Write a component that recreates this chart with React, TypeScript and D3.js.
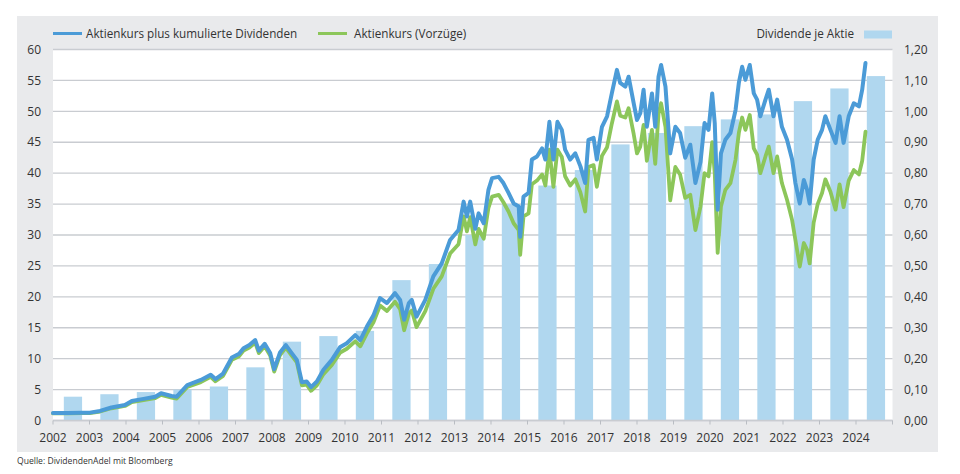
import React from 'react';
import * as d3 from 'd3';

// ---- Data ----
const dividendYears = [2002, 2003, 2004, 2005, 2006, 2007, 2008, 2009, 2010, 2011, 2012, 2013, 2014, 2015, 2016, 2017, 2018, 2019, 2020, 2021, 2022, 2023, 2024];
const dividends = [0.077, 0.085, 0.092, 0.1, 0.11, 0.172, 0.255, 0.273, 0.29, 0.454, 0.506, 0.6, 0.7, 0.76, 0.81, 0.893, 0.93, 0.952, 0.974, 0.99, 1.033, 1.074, 1.114];

const dates = [
  2002.0, 2002.4, 2002.79, 2003.01, 2003.29, 2003.6, 2003.97, 2004.16, 2004.48, 2004.8, 2004.96,
  2005.25, 2005.39, 2005.68, 2006.05, 2006.32, 2006.45, 2006.66, 2006.9, 2007.1, 2007.22, 2007.38,
  2007.54, 2007.64, 2007.8, 2007.95, 2008.06, 2008.22, 2008.38, 2008.54, 2008.68, 2008.82, 2008.95,
  2009.07, 2009.23, 2009.41, 2009.64, 2009.87, 2010.05, 2010.28, 2010.42, 2010.6, 2010.78, 2010.96,
  2011.15, 2011.37, 2011.51, 2011.62, 2011.75, 2011.83, 2011.96, 2012.2, 2012.42, 2012.65, 2012.88,
  2013.11, 2013.25, 2013.34, 2013.43, 2013.57, 2013.66, 2013.8, 2013.93, 2014.03, 2014.21, 2014.34,
  2014.48, 2014.62, 2014.76, 2014.8, 2014.89, 2015.03, 2015.12, 2015.26, 2015.4, 2015.49, 2015.6,
  2015.71, 2015.82, 2015.94, 2016.03, 2016.17, 2016.31, 2016.45, 2016.58, 2016.67, 2016.81, 2016.9,
  2017.04, 2017.18, 2017.31, 2017.45, 2017.54, 2017.68, 2017.77, 2017.91, 2018.0, 2018.09, 2018.18,
  2018.27, 2018.41, 2018.5, 2018.59, 2018.66, 2018.78, 2018.91, 2019.05, 2019.18, 2019.32, 2019.46,
  2019.6, 2019.74, 2019.85, 2019.96, 2020.06, 2020.13, 2020.21, 2020.3, 2020.42, 2020.56, 2020.7,
  2020.79, 2020.88, 2020.97, 2021.09, 2021.2, 2021.29, 2021.38, 2021.52, 2021.61, 2021.74, 2021.84,
  2021.97, 2022.11, 2022.25, 2022.34, 2022.46, 2022.57, 2022.66, 2022.73, 2022.84, 2022.95, 2023.07,
  2023.16, 2023.3, 2023.44, 2023.55, 2023.66, 2023.8, 2023.94, 2024.08, 2024.17, 2024.26,
];

const totalReturn = [
  1.2, 1.2, 1.27, 1.27, 1.55, 2.1, 2.5, 3.15, 3.5, 3.85, 4.4,
  3.97, 3.85, 5.74, 6.55, 7.4, 6.7, 7.6, 10.2, 10.8, 11.7, 12.2,
  13.0, 11.3, 12.4, 10.9, 8.3, 11.0, 12.2, 10.9, 9.8, 6.2, 6.3,
  5.4, 6.3, 8.2, 9.8, 11.9, 12.5, 13.8, 13.0, 15.2, 17.0, 19.8,
  19.0, 20.6, 19.5, 16.3, 19.0, 19.5, 16.8, 19.5, 23.3, 25.4, 29.2,
  30.8, 35.4, 33.0, 35.4, 31.0, 33.5, 31.9, 37.3, 39.2, 39.4, 38.4,
  36.8, 35.1, 34.6, 29.7, 36.2, 36.8, 42.2, 42.7, 44.0, 42.2, 48.3,
  42.2, 48.3, 47.0, 43.8, 42.2, 43.2, 41.1, 38.4, 45.4, 45.7, 42.2,
  47.5, 49.2, 52.9, 56.7, 54.6, 54.0, 55.6, 51.3, 48.6, 49.7, 53.5,
  47.5, 52.9, 47.5, 55.6, 57.5, 54.0, 43.2, 47.5, 46.5, 42.5, 44.6,
  38.4, 41.8, 48.1, 47.0, 52.9, 48.1, 34.1, 43.2, 45.4, 46.5, 50.2,
  54.6, 57.2, 55.1, 57.5, 52.9, 51.9, 49.2, 51.9, 53.5, 49.2, 51.9,
  47.5, 45.4, 42.2, 38.4, 35.1, 38.9, 37.3, 35.1, 42.2, 45.4, 47.0,
  49.2, 47.0, 44.9, 49.2, 44.9, 49.2, 51.3, 50.8, 53.5, 57.8,
];

const priceVz = [
  1.15, 1.15, 1.2, 1.2, 1.45, 1.98, 2.35, 2.98, 3.3, 3.62, 4.15,
  3.7, 3.55, 5.42, 6.2, 7.05, 6.35, 7.22, 9.8, 10.4, 11.3, 11.8,
  12.6, 10.9, 12.0, 10.5, 7.9, 10.6, 11.8, 10.5, 9.4, 5.7, 5.8,
  4.8, 5.7, 7.5, 9.0, 11.0, 11.6, 12.8, 12.0, 14.1, 15.9, 18.6,
  17.7, 19.2, 18.0, 14.6, 17.3, 17.8, 15.1, 17.7, 21.3, 23.3, 27.0,
  28.5, 33.0, 30.6, 32.9, 28.5, 31.0, 29.4, 34.4, 36.2, 36.5, 35.3,
  33.8, 31.9, 30.8, 26.8, 33.0, 33.5, 38.2, 38.8, 39.8, 38.0, 43.8,
  37.8, 43.8, 42.6, 39.5, 38.0, 39.0, 36.9, 33.8, 41.0, 41.3, 37.8,
  42.8, 44.2, 48.0, 51.6, 49.3, 49.0, 50.5, 46.3, 43.2, 44.3, 47.8,
  42.0, 47.0, 41.5, 49.6, 51.3, 47.5, 35.6, 41.0, 39.8, 36.0, 36.5,
  30.8, 34.6, 40.0, 39.5, 45.0, 40.0, 27.1, 34.6, 37.3, 38.4, 42.2,
  46.5, 49.0, 47.0, 49.4, 44.0, 43.0, 40.0, 42.7, 44.3, 40.0, 42.7,
  38.4, 35.7, 32.4, 29.2, 24.9, 28.7, 27.6, 25.4, 32.0, 35.0, 36.8,
  39.0, 37.0, 34.1, 38.2, 34.5, 38.8, 40.5, 39.8, 42.0, 46.7,
];

const leftTicks = [0, 5, 10, 15, 20, 25, 30, 35, 40, 45, 50, 55, 60];
const rightTicks = [0, 0.1, 0.2, 0.3, 0.4, 0.5, 0.6, 0.7, 0.8, 0.9, 1.0, 1.1, 1.2];
const yearTicks = [2002, 2003, 2004, 2005, 2006, 2007, 2008, 2009, 2010, 2011, 2012, 2013, 2014, 2015, 2016, 2017, 2018, 2019, 2020, 2021, 2022, 2023, 2024, 2025];
const yearLabels = ['2002', '2003', '2004', '2005', '2006', '2007', '2008', '2009', '2010', '2011', '2012', '2013', '2014', '2015', '2016', '2017', '2018', '2019', '2020', '2021', '2022', '2023', '2024'];

const seriesNames = ['Aktienkurs plus kumulierte Dividenden', 'Aktienkurs (Vorzüge)', 'Dividende je Aktie'];
const sourceText = 'Quelle: DividendenAdel mit Bloomberg';

// ---- Layout ----
const W = 960;
const H = 474;
const plotL = 53;
const plotR = 892.5;
const plotT = 49.5;
const plotB = 420.5;

const BLUE = '#4b9bd7';
const GREEN = '#8cc65a';
const BAR = '#b0d7ef';
const GRID = '#c9ccd1';
const TEXT = '#333333';
const FONT = "'Open Sans', 'Noto Sans', sans-serif";

export default function App() {
  const x = d3.scaleLinear().domain([2002, 2025]).range([plotL, plotR]);
  const yL = d3.scaleLinear().domain([0, 60]).range([plotB, plotT]);
  const yR = d3.scaleLinear().domain([0, 1.2]).range([plotB, plotT]);
  const band = d3
    .scaleBand<number>()
    .domain(dividendYears)
    .range([x(2002) + 1.7, x(2025) + 1.7])
    .paddingInner(0.5)
    .paddingOuter(0.25);

  const fmtR = (v: number) => d3.format('.2f')(v).replace('.', ',');

  const line = d3
    .line<number>()
    .x((_, i) => x(dates[i]))
    .y((d) => yL(d))
    .curve(d3.curveLinear);

  return (
    <svg
      width={W}
      height={H}
      style={{ position: 'absolute', left: 0, top: 0, fontFamily: FONT }}
    >
      <rect x={0} y={0} width={W} height={H} fill="#ffffff" />
      <rect x={17} y={16} width={921} height={436} fill="#e9eaec" />
      <rect x={plotL} y={plotT} width={plotR - plotL} height={plotB - plotT} fill="#ffffff" />

      {/* gridlines */}
      {leftTicks.map((t) => (
        <line
          key={'g' + t}
          x1={plotL}
          x2={plotR}
          y1={yL(t)}
          y2={yL(t)}
          stroke={GRID}
          strokeWidth={1.3}
        />
      ))}

      {/* bars */}
      {dividendYears.map((yr, i) => (
        <rect
          key={'b' + yr}
          x={band(yr)}
          y={yR(dividends[i])}
          width={band.bandwidth()}
          height={plotB - yR(dividends[i])}
          fill={BAR}
        />
      ))}

      {/* axis line and ticks */}
      <line x1={plotL} x2={plotR} y1={plotB} y2={plotB} stroke={GRID} strokeWidth={1.3} />
      {yearTicks.map((t) => (
        <line key={'t' + t} x1={x(t)} x2={x(t)} y1={plotB} y2={plotB + 4} stroke="#b9bdc3" strokeWidth={1} />
      ))}

      {/* lines */}
      <path d={line(priceVz) || ''} fill="none" stroke={GREEN} strokeWidth={3.8} strokeLinejoin="round" strokeLinecap="round" />
      <path d={line(totalReturn) || ''} fill="none" stroke={BLUE} strokeWidth={4} strokeLinejoin="round" strokeLinecap="round" />

      {/* left axis labels */}
      {leftTicks.map((t) => (
        <text key={'l' + t} x={41} y={yL(t)} dy="0.35em" textAnchor="end" fontSize={12} fill={TEXT}>
          {t}
        </text>
      ))}
      {/* right axis labels */}
      {rightTicks.map((t) => (
        <text key={'r' + t} x={904} y={yR(t)} dy="0.35em" textAnchor="start" fontSize={12} fill={TEXT}>
          {fmtR(t)}
        </text>
      ))}
      {/* x labels */}
      {yearLabels.map((lab, i) => (
        <text key={'x' + lab} x={x(yearTicks[i])} y={442} textAnchor="middle" fontSize={12} fill={TEXT}>
          {lab}
        </text>
      ))}

      {/* legend */}
      <line x1={53} x2={82} y1={33.5} y2={33.5} stroke={BLUE} strokeWidth={3} />
      <text x={86} y={38} fontSize={11.7} fill={TEXT}>{seriesNames[0]}</text>
      <line x1={318} x2={347} y1={33.5} y2={33.5} stroke={GREEN} strokeWidth={3} />
      <text x={354} y={38} fontSize={11.7} fill={TEXT}>{seriesNames[1]}</text>
      <text x={854} y={38} fontSize={11.7} fill={TEXT} textAnchor="end">{seriesNames[2]}</text>
      <rect x={864} y={30.5} width={28} height={8} fill={BAR} />

      {/* source */}
      <text x={17} y={464} fontSize={8.6} fill={TEXT}>{sourceText}</text>
    </svg>
  );
}
